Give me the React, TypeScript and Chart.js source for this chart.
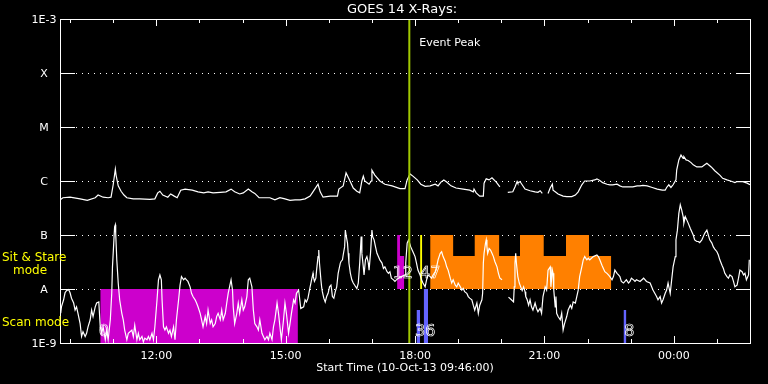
import React, { useEffect, useRef } from "react";
import { Chart, registerables } from "chart.js";

Chart.register(...registerables);

// ---------- text ----------
const chartTitle = "GOES 14 X-Rays:";
const startLabel = "Start Time (10-Oct-13 09:46:00)";
const peakLabel = "Event Peak";
const stareLabel = ["Sit & Stare", "mode"];
const scanLabel = "Scan mode";

// ---------- axes (x in minutes after 09:46) ----------
const spanMinutes = 960;
const hourTicks = [14, 74, 134, 194, 254, 314, 374, 434, 494, 554, 614, 674, 734, 794, 854, 914];
const labelTicks = [134, 314, 494, 674, 854];
const labelTickText = ["12:00", "15:00", "18:00", "21:00", "00:00"];
const decadeExponents = [-9, -8, -7, -6, -5, -4, -3];
const decadeLabels = ["1E-9", "A", "B", "C", "M", "X", "1E-3"];

// ---------- event ----------
const peakMinute = 486;

// ---------- X-ray flux: [minutes after start, log10 flux (W/m^2)] ----------
const longChannel: [number, number | null][] = [
  [0, -6.35], [4, -6.31], [14, -6.3], [28, -6.33], [38, -6.36], [49, -6.31], [53, -6.26], [60, -6.3],
  [67, -6.31], [71, -6.3], [74, -6.07], [77, -5.78], [78, -5.89], [81, -6.09], [85, -6.19], [89, -6.26],
  [93, -6.31], [102, -6.33], [111, -6.33], [125, -6.34], [132, -6.33], [136, -6.22], [139, -6.19],
  [143, -6.26], [150, -6.3], [154, -6.24], [159, -6.28], [163, -6.31], [168, -6.17], [174, -6.15],
  [184, -6.17], [192, -6.2], [200, -6.22], [206, -6.2], [213, -6.22], [223, -6.21], [231, -6.2],
  [238, -6.15], [243, -6.2], [250, -6.24], [255, -6.22], [262, -6.15], [267, -6.2], [271, -6.23],
  [277, -6.31], [292, -6.31], [299, -6.35], [306, -6.31], [313, -6.33], [320, -6.36], [327, -6.35],
  [334, -6.35], [341, -6.33], [348, -6.28], [351, -6.22], [359, -6.06], [362, -6.2], [366, -6.3],
  [376, -6.28], [386, -6.28], [388, -6.15], [394, -6.09], [398, -5.85], [402, -5.96], [408, -6.13],
  [413, -6.19], [417, -6.22], [420, -6.0], [422, -5.91], [424, -6.0], [430, -6.06], [433, -6.0],
  [434, -5.8], [438, -5.89], [445, -6.0], [452, -6.06], [462, -6.09], [473, -6.14], [480, -6.14],
  [483, -5.98], [487, -5.87], [491, -5.91], [497, -5.98], [502, -6.06], [508, -6.1], [515, -6.09],
  [522, -6.06], [526, -6.09], [530, -6.02], [534, -5.98], [538, -6.02], [544, -6.09], [551, -6.13],
  [561, -6.15], [570, -6.17], [575, -6.2], [576, -6.15], [579, -6.22], [584, -6.28], [589, -6.28],
  [590, -6.04], [593, -5.96], [597, -5.98], [601, -5.94], [607, -6.02], [612, -6.11], [616, null],
  [623, -6.21], [630, -6.2], [633, -6.11], [636, -6.01], [637, -6.04], [640, -6.01], [643, -6.07],
  [647, -6.15], [654, -6.18], [661, -6.2], [665, -6.21], [668, -6.18], [671, -6.23], [675, null],
  [679, -6.23], [682, -6.13], [685, -6.06], [686, -6.17], [689, -6.2], [693, -6.24], [700, -6.28],
  [705, -6.29], [712, -6.29], [717, -6.26], [721, -6.2], [726, -6.07], [730, -6.0], [737, -6.0],
  [744, -5.98], [747, -5.96], [751, -5.99], [755, -6.03], [761, -6.06], [765, -6.07], [769, -6.07],
  [775, -6.06], [779, -6.09], [783, -6.11], [790, -6.11], [797, -6.11], [803, -6.09], [807, -6.09],
  [811, -6.08], [817, -6.09], [824, -6.12], [831, -6.15], [838, -6.17], [842, -6.17], [844, -6.12],
  [847, -6.07], [850, -6.12], [853, -6.07], [857, -5.98], [858, -5.8], [861, -5.61], [864, -5.52],
  [867, -5.58], [868, -5.55], [871, -5.61], [874, -5.62], [878, -5.66], [881, -5.7], [886, -5.74],
  [893, -5.74], [897, -5.7], [900, -5.67], [906, -5.74], [911, -5.81], [918, -5.89], [922, -5.95],
  [928, -5.98], [935, -6.01], [939, -6.03], [942, -6.01], [949, -6.01], [956, -6.04], [960, -6.07],
];

const shortChannel: [number, number | null][] = [
  [1, -8.45], [2, -8.33], [5, -8.2], [7, -8.07], [9, -8.03], [12, -8.01], [14, -8.07], [16, -8.17],
  [19, -8.26], [21, -8.39], [23, -8.33], [25, -8.45], [28, -8.64], [30, -8.88], [32, -8.79], [35, -8.88],
  [37, -8.82], [39, -8.7], [42, -8.57], [44, -8.39], [46, -8.51], [49, -8.33], [51, -8.26], [54, -8.24],
  [56, -8.7], [58, -8.82], [60, -8.7], [63, -8.94], [65, -8.76], [67, -8.94], [70, -8.57], [72, -8.08],
  [73, -7.59], [75, -7.09], [76, -6.85], [77, -6.81], [77.5, -6.97], [79, -7.46], [81, -7.89], [83, -8.2],
  [86, -8.45], [88, -8.57], [90, -8.76], [93, -8.94], [95, -8.82], [100, -8.76], [102, -8.88], [104, -8.67],
  [107, -8.94], [109, -8.82], [111, -8.94], [114, -8.88], [116, -8.98], [118, -8.91], [121, -8.94],
  [123, -8.88], [125, -8.94], [128, -8.82], [130, -8.94], [132, -8.7], [135, -8.2], [137, -7.83],
  [139, -7.74], [141, -7.83], [142, -8.2], [144, -8.7], [146, -8.76], [148, -8.7], [151, -8.82],
  [153, -8.76], [155, -8.88], [158, -8.7], [160, -8.94], [162, -8.57], [165, -8.2], [167, -7.93],
  [169, -7.77], [172, -7.83], [174, -7.8], [176, -7.83], [178, -7.86], [181, -7.96], [183, -8.08],
  [185, -8.14], [188, -8.2], [190, -8.26], [192, -8.33], [195, -8.45], [197, -8.57], [199, -8.7],
  [202, -8.51], [204, -8.64], [206, -8.39], [209, -8.64], [211, -8.57], [213, -8.7], [216, -8.64],
  [218, -8.51], [220, -8.45], [223, -8.57], [225, -8.39], [227, -8.57], [230, -8.45], [232, -8.26],
  [234, -8.08], [237, -7.89], [238, -7.83], [240, -8.02], [241, -8.33], [243, -8.64], [246, -8.45],
  [248, -8.26], [250, -8.45], [253, -8.2], [255, -8.39], [257, -8.33], [260, -8.14], [262, -7.83],
  [264, -7.8], [267, -7.96], [269, -8.39], [271, -8.64], [274, -8.7], [276, -8.76], [278, -8.57],
  [281, -8.82], [283, -8.88], [285, -8.94], [288, -8.88], [290, -8.94], [292, -8.82], [295, -8.94],
  [297, -8.7], [299, -8.57], [302, -8.26], [304, -8.45], [306, -8.7], [308, -8.94], [311, -8.57],
  [313, -8.26], [315, -8.45], [318, -8.82], [320, -8.64], [322, -8.45], [325, -8.2], [327, -8.26],
  [329, -8.08], [332, -8.02], [335, -8.36], [339, -8.33], [341, -8.2], [343, -8.24], [345, -8.17],
  [348, -7.96], [350, -7.83], [352, -7.71], [352.5, -7.77], [354, -7.86], [356, -7.8], [357, -7.65],
  [359, -7.4], [360, -7.28], [361, -7.52], [363, -7.83], [364, -7.96], [365, -8.05], [367, -8.17],
  [369, -8.24], [371, -8.14], [373, -8.08], [375, -7.96], [377, -7.93], [378, -8.02], [379, -8.14],
  [381, -8.17], [383, -8.05], [385, -7.96], [387, -7.71], [390, -7.52], [391, -7.49], [393, -7.46],
  [394, -7.37], [396, -7.22], [397, -6.91], [398, -7.0], [400, -7.15], [401, -7.34], [402, -7.52],
  [404, -7.71], [406, -7.83], [408, -7.89], [410, -7.93], [413, -7.99], [415, -7.89], [417, -7.52],
  [419, -7.03], [420, -7.34], [422, -7.59], [423, -7.74], [425, -7.46], [427, -7.4], [429, -7.52],
  [430, -7.65], [432, -7.34], [434, -6.91], [435, -7.03], [437, -7.09], [439, -7.22], [441, -7.34],
  [443, -7.4], [445, -7.46], [448, -7.52], [450, -7.62], [452, -7.59], [455, -7.68], [457, -7.71],
  [459, -7.68], [461, -7.8], [464, -7.83], [466, -7.86], [468, -7.83], [471, -7.8], [475, -7.77],
  [480, -7.74], [481, -7.52], [483, -7.15], [485, -7.09], [488, -7.22], [491, -7.31], [494, -7.4],
  [496, -7.52], [498, -7.65], [501, -7.74], [503, -7.83], [505, -7.89], [508, -7.96], [510, -7.83],
  [512, -7.74], [515, -7.77], [517, -7.8], [519, -7.74], [522, -7.68], [524, -7.59], [526, -7.46],
  [529, -7.34], [531, -7.31], [533, -7.4], [536, -7.49], [538, -7.59], [540, -7.65], [543, -7.8],
  [545, -7.89], [547, -7.83], [550, -7.93], [552, -7.96], [554, -7.89], [557, -7.96], [559, -8.02],
  [561, -7.99], [563, -8.05], [566, -8.08], [568, -8.14], [570, -8.17], [573, -8.2], [575, -8.3],
  [577, -8.39], [580, -8.26], [582, -8.45], [584, -8.3], [587, -8.2], [588, -8.08], [589, -7.52],
  [590, -7.34], [592, -7.15], [593, -7.09], [594, -7.22], [595, -7.34], [597, -7.25], [599, -7.28],
  [601, -7.34], [603, -7.4], [605, -7.49], [608, -7.59], [610, -7.71], [612, -7.8], [615, -7.83],
  [619, null], [624, -8.15], [628, -8.2], [631, -8.24], [632, -7.96], [633, -7.52], [634, -7.34],
  [635, -7.52], [637, -7.77], [639, -7.89], [641, -7.96], [643, -8.03], [645, -7.96], [647, -8.05],
  [648, -8.14], [650, -8.2], [652, -8.3], [654, -8.2], [656, -8.33], [658, -8.39], [661, -8.26],
  [663, -8.36], [665, -8.42], [668, -8.36], [670, -8.45], [672, -8.14], [675, -7.96], [677, -8.02],
  [679, -7.65], [682, -7.59], [683, -7.96], [685, -7.65], [686, -7.71], [687, -8.02], [689, -8.33],
  [690, -8.14], [691, -8.45], [693, -8.51], [696, -8.57], [698, -8.45], [700, -8.76], [702, -8.64],
  [705, -8.51], [707, -8.39], [710, -8.3], [712, -8.36], [714, -8.24], [717, -8.26], [719, -8.14],
  [721, -8.02], [723, -7.77], [726, -7.59], [728, -7.46], [730, -7.4], [733, -7.46], [735, -7.43],
  [737, -7.46], [742, -7.4], [747, -7.37], [749, -7.4], [751, -7.46], [754, -7.56], [756, -7.62],
  [758, -7.68], [761, -7.71], [763, -7.74], [765, -7.77], [768, -7.83], [770, -7.77], [772, -7.65],
  [775, -7.71], [777, -7.74], [779, -7.77], [781, -7.86], [784, -7.89], [786, -7.86], [788, -7.83],
  [791, -7.89], [793, -7.86], [795, -7.8], [798, -7.83], [800, -7.86], [802, -7.83], [807, -7.86],
  [812, -7.8], [816, -7.86], [821, -7.89], [825, -8.02], [830, -8.14], [832, -8.2], [835, -8.14],
  [837, -8.26], [839, -8.2], [842, -8.08], [844, -8.02], [846, -7.89], [849, -8.08], [851, -7.83],
  [853, -7.59], [856, -7.4], [857, -7.09], [859, -6.91], [861, -6.6], [863, -6.44], [865, -6.54],
  [867, -6.66], [868, -6.78], [870, -6.66], [872, -6.72], [874, -6.78], [877, -6.88], [879, -6.94],
  [881, -7.0], [883, -7.09], [886, -7.12], [888, -7.12], [890, -7.14], [893, -7.09], [895, -7.03],
  [897, -6.97], [900, -6.91], [902, -7.0], [904, -7.09], [907, -7.15], [909, -7.22], [911, -7.26],
  [914, -7.31], [916, -7.37], [918, -7.46], [921, -7.56], [923, -7.62], [925, -7.71], [928, -7.77],
  [930, -7.8], [932, -7.74], [935, -7.77], [937, -7.86], [939, -7.96], [942, -7.93], [944, -7.8],
  [946, -7.65], [949, -7.68], [951, -7.74], [953, -7.71], [955, -7.83], [958, -7.74], [959, -7.46],
];

// ---------- observing-mode blocks: [minute, log10 level] steps ----------
const scanMagenta: [number, number][] = [[56, -8], [331, -8]];
const scanBlueA: [number, number][] = [[496, -8.39], [501, -8.39]];
const scanBlueB: [number, number][] = [[506, -8], [512, -8]];
const scanBlueC: [number, number][] = [[784, -8.39], [788, -8.39]];
const stareMagenta: [number, number][] = [[469, -7], [473, -7.39], [479, -7.39]];
const stareYellow: [number, number][] = [[501, -7], [504, -7]];
const stareOrange: [number, number][] = [
  [515, -7], [547, -7.39], [577, -7], [611, -7.39], [640, -7], [673, -7.39], [704, -7], [736, -7.39], [767, -7.39],
];

// ---------- count annotations ----------
const countText = ["0", "12", "47", "36", "8"];
const countMinute = [61, 477, 515, 508, 792];
const countLog = [-8.8, -7.72, -7.72, -8.8, -8.8];

const toPoints = (arr: [number, number | null][]) =>
  arr.map(([t, l]) => ({ x: t, y: l === null ? null : Math.pow(10, l) }));

const block = (arr: [number, number][], color: string, baseExp: number, order: number) => ({
  type: "line",
  data: toPoints(arr),
  stepped: true,
  fill: { value: Math.pow(10, baseExp) },
  backgroundColor: color,
  borderColor: "rgba(0,0,0,0)",
  borderWidth: 0,
  pointRadius: 0,
  order,
});

const FONT = '"DejaVu Sans", sans-serif';

const decorPlugin = {
  id: "goesDecor",
  beforeDatasetsDraw(chart: any) {
    const { ctx, chartArea: a, scales } = chart;
    const y = scales.y;
    ctx.save();
    ctx.strokeStyle = "#ffffff";
    ctx.lineWidth = 1;
    ctx.setLineDash([1, 5]);
    decadeExponents.slice(1, -1).forEach((e) => {
      const py = Math.round(y.getPixelForValue(Math.pow(10, e))) + 0.5;
      ctx.beginPath();
      ctx.moveTo(a.left + 16, py);
      ctx.lineTo(a.right - 14, py);
      ctx.stroke();
    });
    ctx.restore();
  },
  afterDatasetsDraw(chart: any) {
    const { ctx, chartArea: a, scales } = chart;
    const x = scales.x;
    const y = scales.y;
    const L = Math.round(a.left);
    const R = Math.round(a.right);
    const T = Math.round(a.top);
    const B = Math.round(a.bottom);
    ctx.save();
    ctx.strokeStyle = "#ffffff";
    ctx.lineWidth = 1;
    ctx.setLineDash([]);
    ctx.strokeRect(L + 0.5, T + 0.5, R - L, B - T);

    // y decade ticks
    decadeExponents.slice(1, -1).forEach((e) => {
      const py = Math.round(y.getPixelForValue(Math.pow(10, e))) + 0.5;
      ctx.beginPath();
      ctx.moveTo(L, py);
      ctx.lineTo(L + 15, py);
      ctx.moveTo(R - 14, py);
      ctx.lineTo(R + 1, py);
      ctx.stroke();
    });

    // x hour ticks
    hourTicks.forEach((m) => {
      const px = Math.round(x.getPixelForValue(m)) + 0.5;
      const len = labelTicks.includes(m) ? 7 : 4;
      ctx.beginPath();
      ctx.moveTo(px, T);
      ctx.lineTo(px, T + len);
      ctx.moveTo(px, B + 1);
      ctx.lineTo(px, B + 1 - len - 1);
      ctx.stroke();
    });

    // texts
    ctx.fillStyle = "#ffffff";
    ctx.textBaseline = "middle";
    ctx.textAlign = "center";
    ctx.font = `11px ${FONT}`;
    decadeExponents.forEach((e, i) => {
      ctx.fillText(decadeLabels[i], L - 16, y.getPixelForValue(Math.pow(10, e)) + 1);
    });
    labelTicks.forEach((m, i) => {
      ctx.fillText(labelTickText[i], x.getPixelForValue(m), B + 13);
    });
    ctx.fillText(startLabel, (L + R) / 2, B + 25);

    ctx.font = `13px ${FONT}`;
    ctx.fillText(chartTitle, (L + R) / 2 - 3, T - 9);

    ctx.textAlign = "left";
    ctx.font = `11px ${FONT}`;
    ctx.fillText(peakLabel, x.getPixelForValue(peakMinute) + 10, T + 24);

    ctx.fillStyle = "#ffff00";
    ctx.font = `12px ${FONT}`;
    ctx.fillText(stareLabel[0], 2, y.getPixelForValue(Math.pow(10, -7.42)));
    ctx.fillText(stareLabel[1], 13, y.getPixelForValue(Math.pow(10, -7.67)));
    ctx.fillText(scanLabel, 2, y.getPixelForValue(Math.pow(10, -8.63)));

    // hollow count labels
    ctx.textAlign = "center";
    ctx.strokeStyle = "#ffffff";
    ctx.lineWidth = 0.7;
    ctx.font = `16px ${FONT}`;
    countText.forEach((t, i) => {
      ctx.strokeText(t, x.getPixelForValue(countMinute[i]), y.getPixelForValue(Math.pow(10, countLog[i])));
    });
    ctx.restore();
  },
};

export default function App() {
  const canvasRef = useRef<HTMLCanvasElement | null>(null);

  useEffect(() => {
    const canvas = canvasRef.current;
    if (!canvas) return;
    const datasets: any[] = [
      {
        type: "line",
        data: [
          { x: peakMinute, y: 1e-9 },
          { x: peakMinute, y: 1e-3 },
        ],
        borderColor: "#a0c800",
        borderWidth: 2,
        pointRadius: 0,
        fill: false,
        order: 0,
      },
      {
        type: "line",
        data: toPoints(longChannel),
        borderColor: "#ffffff",
        borderWidth: 1.2,
        pointRadius: 0,
        fill: false,
        spanGaps: false,
        tension: 0,
        order: 1,
      },
      {
        type: "line",
        data: toPoints(shortChannel),
        borderColor: "#ffffff",
        borderWidth: 1.2,
        pointRadius: 0,
        fill: false,
        spanGaps: false,
        tension: 0,
        order: 2,
      },
      block(scanBlueA, "#6464ff", -9, 3),
      block(scanBlueB, "#6464ff", -9, 3),
      block(scanBlueC, "#6464ff", -9, 3),
      block(stareYellow, "#ffff00", -8, 4),
      block(stareMagenta, "#cc00cc", -8, 4),
      block(stareOrange, "#ff8000", -8, 5),
      block(scanMagenta, "#cc00cc", -9, 5),
    ];

    const chart = new Chart(canvas, {
      type: "line",
      data: { datasets },
      options: {
        responsive: false,
        maintainAspectRatio: false,
        devicePixelRatio: 1,
        animation: false,
        events: [],
        layout: { padding: { left: 60, right: 18, top: 19, bottom: 41 } },
        scales: {
          x: { type: "linear", display: false, min: 0, max: spanMinutes },
          y: { type: "logarithmic", display: false, min: 1e-9, max: 1e-3 },
        },
        plugins: {
          legend: { display: false },
          tooltip: { enabled: false },
          title: { display: false },
        },
      } as any,
      plugins: [decorPlugin as any],
    });
    return () => chart.destroy();
  }, []);

  return (
    <div
      style={{
        position: "fixed",
        left: 0,
        top: 0,
        width: 768,
        height: 384,
        background: "#000000",
      }}
    >
      <canvas ref={canvasRef} width={768} height={384} style={{ display: "block", width: 768, height: 384 }} />
    </div>
  );
}
